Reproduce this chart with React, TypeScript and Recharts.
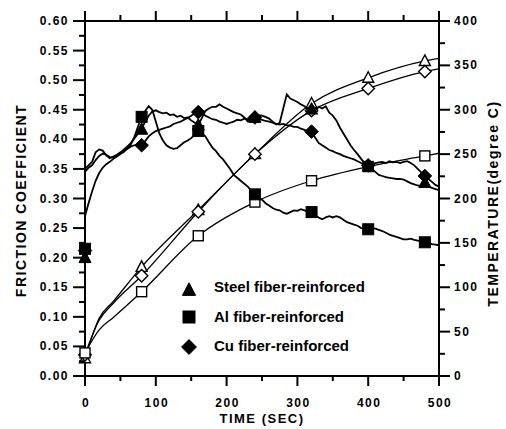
import React from "react";
import { ComposedChart, Line, Scatter, XAxis, YAxis, Legend } from "recharts";

// friction traces, read every 5 s off the figure
const frictionTime = [
  0, 5, 10, 15, 20, 25, 30, 35, 40, 45,
  50, 55, 60, 65, 70, 75, 80, 85, 90, 95,
  100, 105, 110, 115, 120, 125, 130, 135, 140, 145,
  150, 155, 160, 165, 170, 175, 180, 185, 190, 195,
  200, 205, 210, 215, 220, 225, 230, 235, 240, 245,
  250, 255, 260, 265, 270, 275, 280, 285, 290, 295,
  300, 305, 310, 315, 320, 325, 330, 335, 340, 345,
  350, 355, 360, 365, 370, 375, 380, 385, 390, 395,
  400, 405, 410, 415, 420, 425, 430, 435, 440, 445,
  450, 455, 460, 465, 470, 475, 480, 485, 490, 495,
  500,
];

const steelFriction = [
  0.350, 0.356, 0.362, 0.378, 0.383, 0.381, 0.373, 0.368, 0.371, 0.374,
  0.378, 0.383, 0.388, 0.394, 0.402, 0.410, 0.418, 0.430, 0.440, 0.447,
  0.449, 0.446, 0.444, 0.445, 0.441, 0.442, 0.438, 0.440, 0.436, 0.437,
  0.432, 0.428, 0.424, 0.436, 0.448, 0.452, 0.455, 0.455, 0.459, 0.455,
  0.452, 0.449, 0.446, 0.444, 0.442, 0.437, 0.430, 0.434, 0.438, 0.441,
  0.440, 0.438, 0.435, 0.430, 0.425, 0.428, 0.452, 0.476, 0.469, 0.466,
  0.463, 0.459, 0.456, 0.451, 0.449, 0.447, 0.455, 0.452, 0.456, 0.445,
  0.440, 0.432, 0.420, 0.410, 0.400, 0.390, 0.382, 0.375, 0.367, 0.360,
  0.355, 0.350, 0.345, 0.340, 0.338, 0.336, 0.335, 0.334, 0.333, 0.333,
  0.332, 0.329, 0.326, 0.324, 0.322, 0.321, 0.322, 0.320, 0.318, 0.316,
  0.314,
];

const alFriction = [
  0.270, 0.292, 0.312, 0.330, 0.343, 0.352, 0.358, 0.362, 0.367, 0.371,
  0.375, 0.379, 0.385, 0.392, 0.405, 0.422, 0.438, 0.448, 0.456, 0.450,
  0.430, 0.410, 0.398, 0.390, 0.386, 0.384, 0.385, 0.390, 0.395, 0.398,
  0.402, 0.408, 0.414, 0.410, 0.405, 0.395, 0.386, 0.380, 0.372, 0.366,
  0.358, 0.350, 0.340, 0.335, 0.330, 0.325, 0.320, 0.313, 0.307, 0.302,
  0.298, 0.292, 0.288, 0.284, 0.281, 0.280, 0.276, 0.274, 0.277, 0.280,
  0.279, 0.282, 0.280, 0.278, 0.277, 0.272, 0.268, 0.265, 0.268, 0.270,
  0.268, 0.270, 0.268, 0.264, 0.260, 0.258, 0.256, 0.254, 0.250, 0.249,
  0.248, 0.250, 0.249, 0.247, 0.245, 0.242, 0.239, 0.237, 0.235, 0.233,
  0.231, 0.231, 0.232, 0.230, 0.229, 0.227, 0.226, 0.225, 0.223, 0.222,
  0.221,
];

const cuFriction = [
  0.345, 0.352, 0.356, 0.365, 0.372, 0.376, 0.374, 0.370, 0.369, 0.372,
  0.377, 0.380, 0.384, 0.388, 0.390, 0.392, 0.390, 0.397, 0.405, 0.410,
  0.414, 0.416, 0.418, 0.420, 0.422, 0.426, 0.428, 0.430, 0.433, 0.436,
  0.440, 0.444, 0.446, 0.443, 0.440, 0.437, 0.434, 0.433, 0.430, 0.428,
  0.426, 0.428, 0.430, 0.433, 0.432, 0.435, 0.434, 0.436, 0.437, 0.435,
  0.433, 0.431, 0.430, 0.428, 0.426, 0.425, 0.426, 0.424, 0.423, 0.421,
  0.421, 0.418, 0.416, 0.414, 0.413, 0.403, 0.394, 0.390, 0.386, 0.382,
  0.380, 0.377, 0.375, 0.372, 0.370, 0.368, 0.366, 0.363, 0.360, 0.358,
  0.356, 0.357, 0.360, 0.361, 0.362, 0.360, 0.363, 0.361, 0.362, 0.360,
  0.362, 0.363, 0.360, 0.356, 0.350, 0.344, 0.338, 0.333, 0.328, 0.323,
  0.320,
];

// filled markers on the friction curves
const markerTime = [0, 80, 160, 240, 320, 400, 480];
const steelMarks = [0.200, 0.417, 0.424, 0.437, 0.451, 0.355, 0.327];
const alMarks = [0.215, 0.438, 0.414, 0.307, 0.277, 0.248, 0.226];
const cuMarks = [0.212, 0.390, 0.446, 0.437, 0.413, 0.356, 0.338];

// temperature curves (degree C)
const tempTime = [0, 20, 40, 80, 160, 240, 320, 400, 480, 500];
const steelTemp = [20, 65, 84, 123, 187, 250, 307, 336, 355, 358];
const alTemp = [26, 52, 66, 95, 158, 196, 220, 236, 248, 251];
const cuTemp = [24, 63, 82, 113, 185, 250, 299, 324, 343, 346];

const timeTicks = [0, 50, 100, 150, 200, 250, 300, 350, 400, 450, 500];
const frictionTicks = [
  0, 0.025, 0.05, 0.075, 0.1, 0.125, 0.15, 0.175, 0.2, 0.225, 0.25, 0.275, 0.3,
  0.325, 0.35, 0.375, 0.4, 0.425, 0.45, 0.475, 0.5, 0.525, 0.55, 0.575, 0.6,
];
const tempTicks = [0, 25, 50, 75, 100, 125, 150, 175, 200, 225, 250, 275, 300, 325, 350, 375, 400];

const legendLabels = ["Steel fiber-reinforced", "Al fiber-reinforced", "Cu fiber-reinforced"];

const FONT = '"Liberation Sans", Arial, Helvetica, sans-serif';
const tickText = { fontFamily: FONT, fontWeight: 700, fontSize: 12, fill: "#000", letterSpacing: 1.5 };
const titleText = { fontFamily: FONT, fontWeight: 700, fill: "#000" };

type Kind = "triangle" | "square" | "diamond";

const drawMark = (kind: Kind, cx: number, cy: number, s: number, filled: boolean) => {
  const style = { fill: filled ? "#000" : "#fff", stroke: "#000", strokeWidth: filled ? 1 : 1.4 };
  if (kind === "triangle") {
    return (
      <polygon
        points={`${cx},${cy - s * 0.6} ${cx + s * 0.55},${cy + s * 0.45} ${cx - s * 0.55},${cy + s * 0.45}`}
        {...style}
      />
    );
  }
  if (kind === "square") {
    return <rect x={cx - s / 2} y={cy - s / 2} width={s} height={s} {...style} />;
  }
  return (
    <polygon
      points={`${cx},${cy - s * 0.62} ${cx + s * 0.62},${cy} ${cx},${cy + s * 0.62} ${cx - s * 0.62},${cy}`}
      {...style}
    />
  );
};

const markShape = (kind: Kind, filled: boolean, s: number) => (props: any) =>
  <g>{drawMark(kind, props.cx, props.cy, s, filled)}</g>;

const toPoints = (xs: number[], ys: number[]) => xs.map((t, i) => ({ t, v: ys[i] }));
const tempMarks = (ys: number[]) => markerTime.map((t) => ({ t, v: ys[tempTime.indexOf(t)] }));

const LeftTick = (p: any) => {
  const major = p.index % 2 === 0;
  return (
    <g>
      <line x1={p.x - (major ? 12 : 6)} x2={p.x} y1={p.y} y2={p.y} stroke="#000" strokeWidth={2} />
      {major && (
        <text x={p.x - 16} y={p.y + 4} textAnchor="end" {...tickText}>
          {Number(p.payload.value).toFixed(2)}
        </text>
      )}
    </g>
  );
};

const RightTick = (p: any) => {
  const major = p.index % 2 === 0;
  return (
    <g>
      <line x1={p.x} x2={p.x + (major ? 11 : 6)} y1={p.y} y2={p.y} stroke="#000" strokeWidth={2} />
      {major && (
        <text x={p.x + 15} y={p.y + 4} textAnchor="start" {...tickText}>
          {p.payload.value}
        </text>
      )}
    </g>
  );
};

const BottomTick = (p: any) => {
  const major = p.index % 2 === 0;
  return (
    <g>
      <line x1={p.x} x2={p.x} y1={p.y} y2={p.y + (major ? 10 : 5)} stroke="#000" strokeWidth={2} />
      {major && (
        <text x={p.x + 1} y={p.y + 31} textAnchor="middle" {...tickText}>
          {p.payload.value}
        </text>
      )}
    </g>
  );
};

const TopTick = (p: any) => {
  const major = p.index % 2 === 0;
  return <line x1={p.x} x2={p.x} y1={p.y} y2={p.y - (major ? 10 : 6)} stroke="#000" strokeWidth={2} />;
};

const LeftTitle = (props: any) => {
  const { x, y, height } = props.viewBox;
  const cx = x + 21;
  const cy = y + height / 2 + 2;
  return (
    <text x={cx} y={cy} transform={`rotate(-90 ${cx} ${cy})`} textAnchor="middle" dominantBaseline="central"
      fontSize={14} letterSpacing={1.5} {...titleText}>
      FRICTION COEFFICIENT
    </text>
  );
};

const RightTitle = (props: any) => {
  const { x, y, height } = props.viewBox;
  const cx = x + 54;
  const cy = y + height / 2 + 5;
  return (
    <text x={cx} y={cy} transform={`rotate(-90 ${cx} ${cy})`} textAnchor="middle" dominantBaseline="central"
      fontSize={14} letterSpacing={1.5} {...titleText}>
      TEMPERATURE(degree C)
    </text>
  );
};

const BottomTitle = (props: any) => {
  const { x, y, width } = props.viewBox;
  return (
    <text x={x + width / 2} y={y + 47} textAnchor="middle" fontSize={13} letterSpacing={1.5} {...titleText}>
      TIME (SEC)
    </text>
  );
};

const legendKinds: Kind[] = ["triangle", "square", "diamond"];
const legendIconDy = [3, 1, 1];

const renderLegend = () => (
  <div style={{ fontFamily: FONT, fontWeight: 700, fontSize: 15, color: "#000" }}>
    {legendLabels.map((label, i) => (
      <div key={label} style={{ display: "flex", alignItems: "center", height: 29.5 }}>
        <svg width={18} height={18} style={{ display: "block" }}>
          {drawMark(legendKinds[i], 9, 9 + legendIconDy[i], 12, true)}
        </svg>
        <span style={{ marginLeft: 16, whiteSpace: "nowrap" }}>{label}</span>
      </div>
    ))}
  </div>
);

export default function App() {
  return (
    <div style={{ position: "absolute", left: 0, top: 0, background: "#fff" }}>
      <ComposedChart width={506} height={429} margin={{ top: 0, right: 0, bottom: 0, left: 0 }}>
        <XAxis xAxisId="b" dataKey="t" type="number" domain={[0, 500]} ticks={timeTicks} interval={0}
          orientation="bottom" height={53} tickSize={0} tickMargin={0} tickLine={false}
          axisLine={{ stroke: "#000", strokeWidth: 2 }} tick={<BottomTick />} label={<BottomTitle />} />
        <XAxis xAxisId="top" dataKey="t" type="number" domain={[0, 500]} ticks={timeTicks} interval={0}
          orientation="top" height={21} tickSize={0} tickMargin={0} tickLine={false}
          axisLine={{ stroke: "#000", strokeWidth: 2 }} tick={<TopTick />} />
        <YAxis yAxisId="f" type="number" domain={[0, 0.6]} ticks={frictionTicks} interval={0}
          orientation="left" width={85} tickSize={0} tickMargin={0} tickLine={false}
          axisLine={{ stroke: "#000", strokeWidth: 2 }} tick={<LeftTick />} label={<LeftTitle />} />
        <YAxis yAxisId="T" type="number" domain={[0, 400]} ticks={tempTicks} interval={0}
          orientation="right" width={67} tickSize={0} tickMargin={0} tickLine={false}
          axisLine={{ stroke: "#000", strokeWidth: 2 }} tick={<RightTick />} label={<RightTitle />} />

        <Line data={toPoints(tempTime, steelTemp)} dataKey="v" xAxisId="b" yAxisId="T" type="monotone"
          stroke="#000" strokeWidth={1.3} dot={false} isAnimationActive={false} />
        <Line data={toPoints(tempTime, cuTemp)} dataKey="v" xAxisId="b" yAxisId="T" type="monotone"
          stroke="#000" strokeWidth={1.3} dot={false} isAnimationActive={false} />
        <Line data={toPoints(tempTime, alTemp)} dataKey="v" xAxisId="b" yAxisId="T" type="monotone"
          stroke="#000" strokeWidth={1.3} dot={false} isAnimationActive={false} />

        {/* friction traces hang on the top time axis so that axis gets its ticks too */}
        <Line data={toPoints(frictionTime, steelFriction)} dataKey="v" xAxisId="top" yAxisId="f" type="linear"
          stroke="#000" strokeWidth={1.8} dot={false} isAnimationActive={false} />
        <Line data={toPoints(frictionTime, alFriction)} dataKey="v" xAxisId="top" yAxisId="f" type="linear"
          stroke="#000" strokeWidth={1.8} dot={false} isAnimationActive={false} />
        <Line data={toPoints(frictionTime, cuFriction)} dataKey="v" xAxisId="top" yAxisId="f" type="linear"
          stroke="#000" strokeWidth={1.8} dot={false} isAnimationActive={false} />

        <Scatter data={tempMarks(steelTemp)} dataKey="v" xAxisId="b" yAxisId="T"
          shape={markShape("triangle", false, 10)} isAnimationActive={false} />
        <Scatter data={tempMarks(cuTemp)} dataKey="v" xAxisId="b" yAxisId="T"
          shape={markShape("diamond", false, 10)} isAnimationActive={false} />
        <Scatter data={tempMarks(alTemp)} dataKey="v" xAxisId="b" yAxisId="T"
          shape={markShape("square", false, 10)} isAnimationActive={false} />

        <Scatter data={toPoints(markerTime, steelMarks)} dataKey="v" xAxisId="b" yAxisId="f"
          shape={markShape("triangle", true, 11)} isAnimationActive={false} />
        <Scatter data={toPoints(markerTime, cuMarks)} dataKey="v" xAxisId="b" yAxisId="f"
          shape={markShape("diamond", true, 11)} isAnimationActive={false} />
        <Scatter data={toPoints(markerTime, alMarks)} dataKey="v" xAxisId="b" yAxisId="f"
          shape={markShape("square", true, 11)} isAnimationActive={false} />

        <Legend layout="vertical" align="center" verticalAlign="middle" content={renderLegend}
          wrapperStyle={{ left: 180, top: 272, width: 230, height: 90 }} />
      </ComposedChart>
    </div>
  );
}
